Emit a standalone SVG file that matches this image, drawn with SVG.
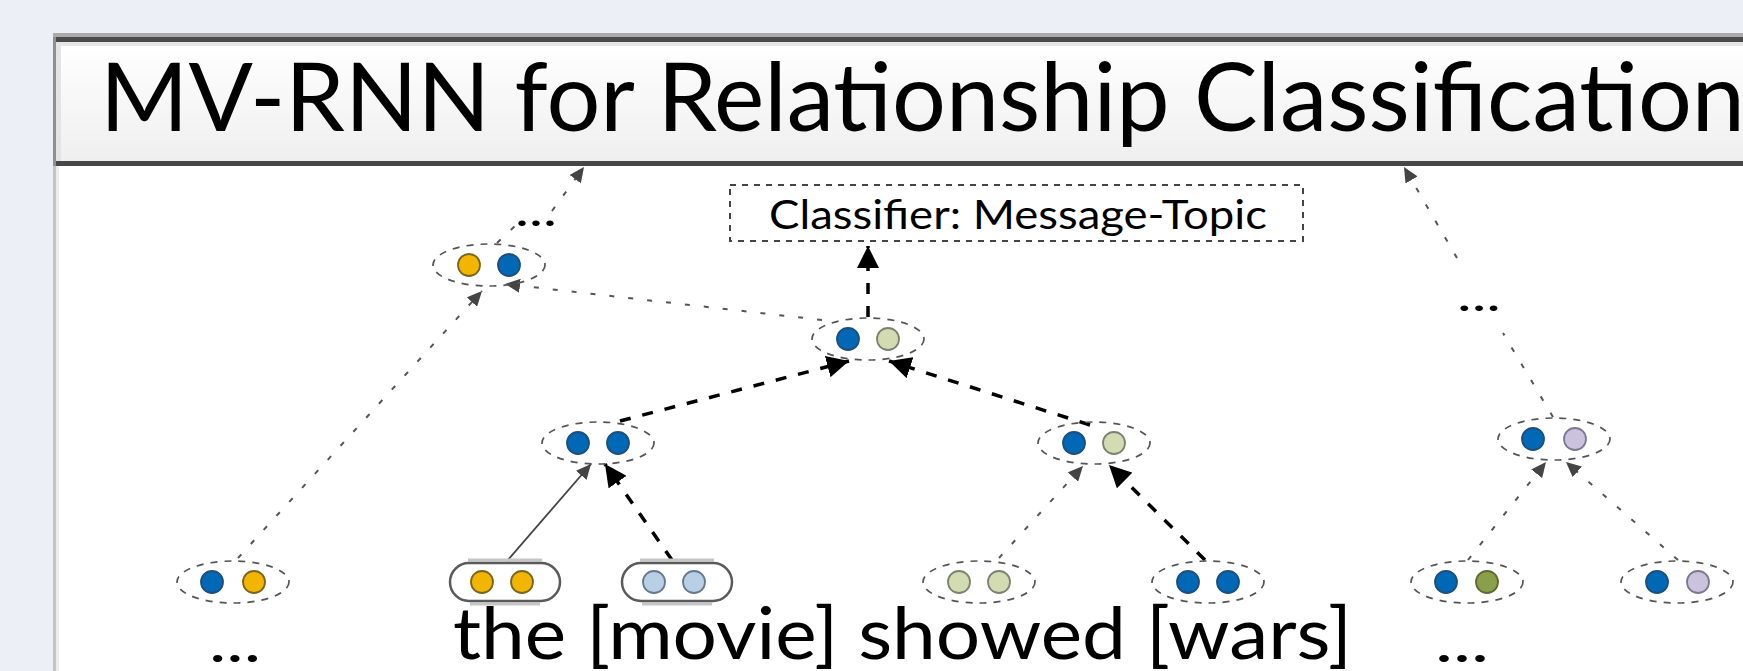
<svg xmlns="http://www.w3.org/2000/svg" width="1743" height="671" viewBox="0 0 1743 671">
<defs>
<style>
.t{font-family:Lato,"Open Sans","Liberation Sans",sans-serif;fill:#000}
.ring{fill:none;stroke:#555;stroke-width:1.7;stroke-dasharray:7 7}
.pill{fill:#fff;stroke:#5a5a5a;stroke-width:2.5}
.pillhi{stroke:#c6c6c6;stroke-width:3}
.gd{fill:none;stroke:#555;stroke-width:2;stroke-dasharray:5 14}
.bd{fill:none;stroke:#000;stroke-width:3.5;stroke-dasharray:11 12}
.sl{fill:none;stroke:#444;stroke-width:1.8}
.blue{fill:#0068b4;stroke:#1d4f7e;stroke-width:1.8}
.yel{fill:#f2b500;stroke:#7a6420;stroke-width:1.8}
.pg{fill:#d3dbb3;stroke:#7c8270;stroke-width:1.8}
.ol{fill:#8b9e4a;stroke:#5d6b33;stroke-width:1.8}
.lav{fill:#cbc3dd;stroke:#7d7890;stroke-width:1.8}
.lb{fill:#b9cfe5;stroke:#66788c;stroke-width:1.8}
</style>
<linearGradient id="tb" x1="0" y1="0" x2="0" y2="1">
<stop offset="0" stop-color="#ffffff"/>
<stop offset="1" stop-color="#efefef"/>
</linearGradient>
<marker id="ab" markerUnits="userSpaceOnUse" markerWidth="24" markerHeight="22" refX="22" refY="11" orient="auto">
<path d="M0,0 L22,11 L0,22 z" fill="#000"/>
</marker>
<marker id="ag" markerUnits="userSpaceOnUse" markerWidth="16" markerHeight="14" refX="15" refY="7" orient="auto">
<path d="M0,0 L15,7 L0,14 z" fill="#444"/>
</marker>
</defs>

<rect x="0" y="0" width="1743" height="671" fill="#eceff6"/>

<g id="slide">
<rect x="53" y="33" width="1700" height="650" fill="#fff"/>
<rect x="53" y="33" width="1700" height="4" fill="#aaa"/>
<rect x="53" y="37" width="1700" height="5" fill="#4a4a4a"/>
<rect x="53" y="42" width="1700" height="119" fill="url(#tb)"/>
<rect x="53" y="42" width="1700" height="4" fill="#e6e6e6"/>
<rect x="53" y="161" width="1700" height="5" fill="#474747"/>
<rect x="53" y="37" width="3" height="129" fill="#8f8f8f"/>
<rect x="56" y="42" width="5" height="119" fill="#e4e4e4"/>
<rect x="53" y="166" width="3" height="505" fill="#c4c4c4"/>
<rect x="56" y="166" width="3" height="505" fill="#ececec"/>
</g>

<g id="title">
<text class="t" x="100" y="131" font-size="95" textLength="1645" lengthAdjust="spacingAndGlyphs">MV-RNN for Relationship Classification</text>
</g>

<g id="connectors">
<line class="gd" x1="238" y1="558" x2="482" y2="291" marker-end="url(#ag)"/>
<line class="gd" x1="822" y1="320" x2="505" y2="284" marker-end="url(#ag)"/>
<line class="gd" x1="497" y1="243" x2="515" y2="226"/>
<line class="gd" x1="552" y1="211" x2="584" y2="167" marker-end="url(#ag)"/>
<line class="bd" x1="868" y1="317" x2="868" y2="246" marker-end="url(#ab)"/>
<line class="bd" x1="620" y1="421" x2="849" y2="361" marker-end="url(#ab)"/>
<line class="bd" x1="1090" y1="425" x2="889" y2="361" marker-end="url(#ab)"/>
<line class="sl" x1="507" y1="561" x2="591" y2="464" marker-end="url(#ag)"/>
<line class="bd" x1="672" y1="560" x2="605" y2="464" marker-end="url(#ab)"/>
<line class="gd" x1="999" y1="558" x2="1083" y2="466" marker-end="url(#ag)"/>
<line class="bd" x1="1205" y1="560" x2="1109" y2="465" marker-end="url(#ab)"/>
<line class="gd" x1="1468" y1="560" x2="1546" y2="462" marker-end="url(#ag)"/>
<line class="gd" x1="1678" y1="560" x2="1566" y2="462" marker-end="url(#ag)"/>
<line class="gd" x1="1553" y1="417" x2="1503" y2="333"/>
<line class="gd" x1="1457" y1="258" x2="1404" y2="167" marker-end="url(#ag)"/>
</g>

<g id="classifier">
<rect x="730" y="185" width="573" height="56" fill="#fff" stroke="#444" stroke-width="2" stroke-dasharray="6 6"/>
<text class="t" x="769" y="229" font-size="40" textLength="498" lengthAdjust="spacingAndGlyphs">Classifier: Message-Topic</text>
</g>

<g id="node-left-upper">
<ellipse class="ring" cx="489" cy="265" rx="56" ry="21"/>
<circle class="yel" cx="469" cy="265" r="11"/>
<circle class="blue" cx="509" cy="265" r="11"/>
</g>

<g id="node-top">
<ellipse class="ring" cx="868" cy="339" rx="56" ry="21"/>
<circle class="blue" cx="848" cy="339" r="11"/>
<circle class="pg" cx="888" cy="339" r="11"/>
</g>

<g id="node-movie-parent">
<ellipse class="ring" cx="598" cy="443" rx="56" ry="21"/>
<circle class="blue" cx="578" cy="443" r="11"/>
<circle class="blue" cx="618" cy="443" r="11"/>
</g>

<g id="node-showed-wars">
<ellipse class="ring" cx="1094" cy="443" rx="56" ry="21"/>
<circle class="blue" cx="1074" cy="443" r="11"/>
<circle class="pg" cx="1114" cy="443" r="11"/>
</g>

<g id="node-right-upper">
<ellipse class="ring" cx="1554" cy="439" rx="56" ry="21"/>
<circle class="blue" cx="1533" cy="439" r="11"/>
<circle class="lav" cx="1575" cy="439" r="11"/>
</g>

<g id="leaf-left">
<ellipse class="ring" cx="233" cy="582" rx="56" ry="21"/>
<circle class="blue" cx="212" cy="582" r="11"/>
<circle class="yel" cx="254" cy="582" r="11"/>
</g>

<g id="leaf-the">
<line class="pillhi" x1="468" y1="560" x2="542" y2="560"/>
<line class="pillhi" x1="470" y1="604" x2="540" y2="604"/>
<rect class="pill" x="450" y="563" width="110" height="38" rx="19"/>
<circle class="yel" cx="482" cy="582" r="11"/>
<circle class="yel" cx="522" cy="582" r="11"/>
</g>

<g id="leaf-movie">
<line class="pillhi" x1="640" y1="560" x2="714" y2="560"/>
<line class="pillhi" x1="642" y1="604" x2="712" y2="604"/>
<rect class="pill" x="622" y="563" width="110" height="38" rx="19"/>
<circle class="lb" cx="654" cy="582" r="11"/>
<circle class="lb" cx="694" cy="582" r="11"/>
</g>

<g id="leaf-showed">
<ellipse class="ring" cx="979" cy="582" rx="56" ry="21"/>
<circle class="pg" cx="959" cy="582" r="11"/>
<circle class="pg" cx="999" cy="582" r="11"/>
</g>

<g id="leaf-wars">
<ellipse class="ring" cx="1208" cy="582" rx="56" ry="21"/>
<circle class="blue" cx="1188" cy="582" r="11"/>
<circle class="blue" cx="1228" cy="582" r="11"/>
</g>

<g id="leaf-right-1">
<ellipse class="ring" cx="1467" cy="582" rx="56" ry="21"/>
<circle class="blue" cx="1446" cy="582" r="11"/>
<circle class="ol" cx="1487" cy="582" r="11"/>
</g>

<g id="leaf-right-2">
<ellipse class="ring" cx="1677" cy="582" rx="56" ry="21"/>
<circle class="blue" cx="1657" cy="582" r="11"/>
<circle class="lav" cx="1698" cy="582" r="11"/>
</g>

<g id="labels">
<text class="t" x="515" y="226" font-size="44" textLength="42" lengthAdjust="spacingAndGlyphs">...</text>
<text class="t" x="1457" y="311" font-size="44" textLength="44" lengthAdjust="spacingAndGlyphs">...</text>
<text class="t" x="453" y="659" font-size="72" textLength="899" lengthAdjust="spacingAndGlyphs">the [movie] showed [wars]</text>
<text class="t" x="209" y="662" font-size="56" textLength="52" lengthAdjust="spacingAndGlyphs">...</text>
<text class="t" x="1435" y="662" font-size="56" textLength="54" lengthAdjust="spacingAndGlyphs">...</text>
</g>
</svg>
